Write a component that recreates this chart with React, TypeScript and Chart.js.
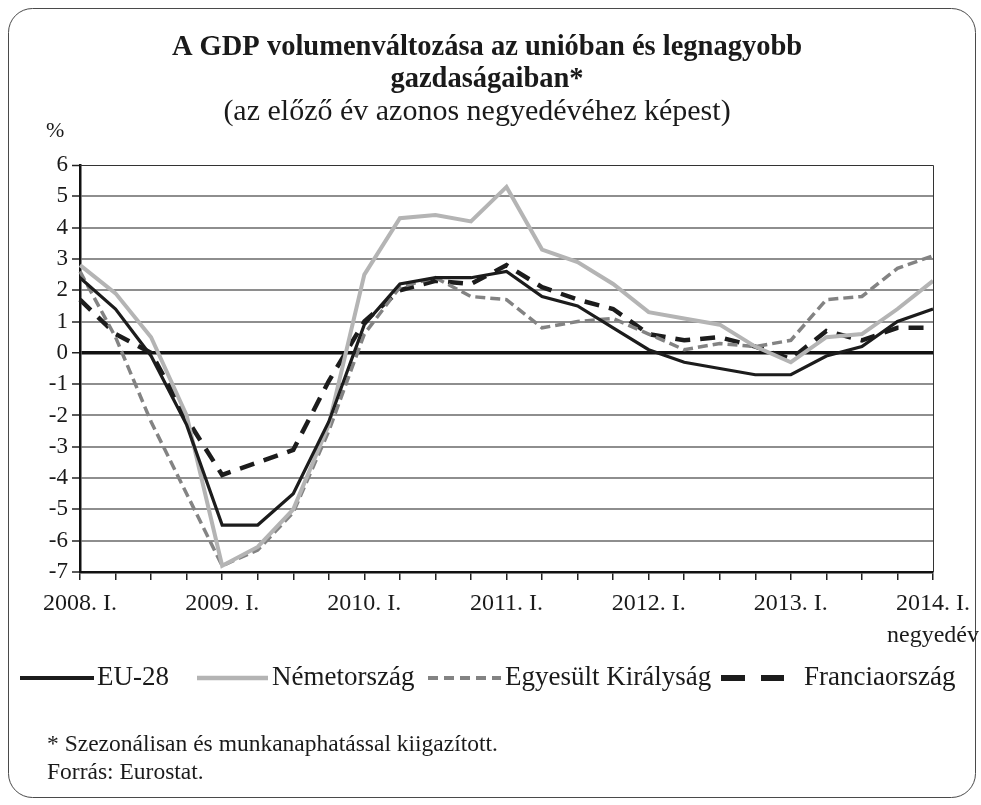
import React, { useEffect, useRef } from "react";
import { Chart, registerables } from "chart.js";

Chart.register(...registerables);

const categories = [
  "2008. I.", "2008. II.", "2008. III.", "2008. IV.",
  "2009. I.", "2009. II.", "2009. III.", "2009. IV.",
  "2010. I.", "2010. II.", "2010. III.", "2010. IV.",
  "2011. I.", "2011. II.", "2011. III.", "2011. IV.",
  "2012. I.", "2012. II.", "2012. III.", "2012. IV.",
  "2013. I.", "2013. II.", "2013. III.", "2013. IV.",
  "2014. I.",
];
const tickLabels = [
  "2008. I.", "", "", "", "2009. I.", "", "", "", "2010. I.", "", "", "",
  "2011. I.", "", "", "", "2012. I.", "", "", "", "2013. I.", "", "", "", "2014. I.",
];
const eu28 = [2.4, 1.4, -0.1, -2.3, -5.5, -5.5, -4.5, -2.2, 0.9, 2.2, 2.4, 2.4, 2.6, 1.8, 1.5, 0.8, 0.1, -0.3, -0.5, -0.7, -0.7, -0.1, 0.2, 1.0, 1.4];
const germany = [2.8, 1.9, 0.5, -2.0, -6.8, -6.2, -5.0, -2.3, 2.5, 4.3, 4.4, 4.2, 5.3, 3.3, 2.9, 2.2, 1.3, 1.1, 0.9, 0.2, -0.3, 0.5, 0.6, 1.4, 2.3];
const uk = [2.6, 0.5, -2.2, -4.5, -6.8, -6.3, -5.1, -2.5, 0.6, 2.1, 2.4, 1.8, 1.7, 0.8, 1.0, 1.1, 0.6, 0.1, 0.3, 0.2, 0.4, 1.7, 1.8, 2.7, 3.1];
const france = [1.7, 0.6, 0.0, -2.1, -3.9, -3.5, -3.1, -0.9, 1.0, 2.0, 2.3, 2.2, 2.8, 2.1, 1.7, 1.4, 0.6, 0.4, 0.5, 0.2, -0.2, 0.7, 0.4, 0.8, 0.8];

const titleLines = ["A GDP volumenváltozása az unióban és legnagyobb", "gazdaságaiban*"];
const subtitleText = "(az előző év azonos negyedévéhez képest)";
const yUnit = "%";
const xUnit = "negyedév";
const footnotes = ["* Szezonálisan és munkanaphatással kiigazított.", "Forrás: Eurostat."];

const FONT = "'Liberation Serif', 'DejaVu Serif', serif";

const seriesStyles = [
  { label: "EU-28", data: eu28, color: "#1c1c1c", width: 3.2, dash: [] as number[] },
  { label: "Németország", data: germany, color: "#b4b4b4", width: 4, dash: [] as number[] },
  { label: "Egyesült Királyság", data: uk, color: "#838383", width: 3.5, dash: [10, 5] },
  { label: "Franciaország", data: france, color: "#1c1c1c", width: 4.5, dash: [15, 10] },
];

// legend layout: [line start, line end, text start]
const legendLayout = [
  [20, 94, 97],
  [197, 268, 272],
  [428, 501, 505],
  [721, 784, 804],
];
const legendDash = [[], [], [10, 6], [24, 16]];
const legendWidth = [4, 4.5, 4, 6];

const decorPlugin = {
  id: "decor",
  beforeDraw(chart: any) {
    const ctx = chart.ctx;
    ctx.save();
    ctx.fillStyle = "#ffffff";
    ctx.fillRect(0, 0, chart.width, chart.height);
    const x = 8.5, y = 8.5, w = 967, h = 789, r = 24;
    ctx.beginPath();
    ctx.moveTo(x + r, y);
    ctx.lineTo(x + w - r, y);
    ctx.arcTo(x + w, y, x + w, y + r, r);
    ctx.lineTo(x + w, y + h - r);
    ctx.arcTo(x + w, y + h, x + w - r, y + h, r);
    ctx.lineTo(x + r, y + h);
    ctx.arcTo(x, y + h, x, y + h - r, r);
    ctx.lineTo(x, y + r);
    ctx.arcTo(x, y, x + r, y, r);
    ctx.closePath();
    ctx.strokeStyle = "#4a4a4a";
    ctx.lineWidth = 1;
    ctx.stroke();
    ctx.restore();
  },
  afterDatasetsDraw(chart: any) {
    const ctx = chart.ctx;
    const a = chart.chartArea;
    ctx.save();
    ctx.strokeStyle = "#333";
    ctx.lineWidth = 1;
    ctx.beginPath();
    ctx.moveTo(a.left, a.top + 0.5);
    ctx.lineTo(a.right + 0.5, a.top + 0.5);
    ctx.lineTo(a.right + 0.5, a.bottom);
    ctx.stroke();

    ctx.fillStyle = "#1a1a1a";
    ctx.textBaseline = "middle";
    ctx.textAlign = "center";
    ctx.font = `bold 28.5px ${FONT}`;
    ctx.fillText(titleLines[0], 487, 48);
    ctx.fillText(titleLines[1], 487, 80);
    ctx.font = `30px ${FONT}`;
    ctx.fillText(subtitleText, 477, 112);
    ctx.textAlign = "left";
    ctx.font = `22px ${FONT}`;
    ctx.fillText(yUnit, 46, 131);
    ctx.textAlign = "right";
    ctx.font = `24px ${FONT}`;
    ctx.fillText(xUnit, 979, 636);

    ctx.font = `27px ${FONT}`;
    const ly = 678;
    seriesStyles.forEach((s, i) => {
      const [x0, x1, tx] = legendLayout[i];
      ctx.beginPath();
      ctx.setLineDash(legendDash[i]);
      ctx.strokeStyle = s.color;
      ctx.lineWidth = legendWidth[i];
      ctx.moveTo(x0, ly);
      ctx.lineTo(x1, ly);
      ctx.stroke();
      ctx.setLineDash([]);
      ctx.textAlign = "left";
      ctx.fillStyle = "#1a1a1a";
      ctx.fillText(s.label, tx, ly);
    });

    ctx.font = `23.5px ${FONT}`;
    ctx.textAlign = "left";
    ctx.fillText(footnotes[0], 47, 745);
    ctx.fillText(footnotes[1], 47, 773);
    ctx.restore();
  },
};

export default function App() {
  const ref = useRef<HTMLCanvasElement>(null);
  useEffect(() => {
    document.body.style.margin = "0";
    const canvas = ref.current;
    if (!canvas) return;
    const chart = new Chart(canvas, {
      type: "line",
      data: {
        labels: categories,
        datasets: seriesStyles.map((s) => ({
          label: s.label,
          data: s.data,
          borderColor: s.color,
          backgroundColor: s.color,
          borderWidth: s.width,
          borderDash: s.dash,
          pointRadius: 0,
          pointHoverRadius: 0,
          tension: 0,
          fill: false,
          borderCapStyle: "butt",
          borderJoinStyle: "miter",
        })),
      },
      options: {
        animation: false,
        responsive: false,
        maintainAspectRatio: false,
        events: [],
        layout: { padding: { left: 0, top: 165, right: 48, bottom: 193 } },
        plugins: {
          legend: { display: false },
          title: { display: false },
          tooltip: { enabled: false },
        },
        scales: {
          x: {
            type: "category",
            offset: false,
            afterFit: (s: any) => { s.height = 40; },
            border: { display: true, color: "#111", width: 2.5 },
            grid: {
              display: true,
              offset: false,
              drawOnChartArea: false,
              drawTicks: true,
              tickLength: 8,
              color: "#222",
              lineWidth: 1.5,
            },
            ticks: {
              autoSkip: false,
              maxRotation: 0,
              minRotation: 0,
              padding: 9,
              color: "#1a1a1a",
              font: { family: FONT, size: 24 },
              callback: (_v: any, i: number) => tickLabels[i],
            },
          },
          y: {
            min: -7,
            max: 6,
            afterFit: (s: any) => { s.width = 80; },
            border: { display: true, color: "#111", width: 2.5 },
            grid: {
              drawTicks: true,
              tickLength: 8,
              tickColor: "#222",
              tickWidth: 1.5,
              color: (c: any) => (c.tick && c.tick.value === 0 ? "#111" : c.tick && c.tick.value === 6 ? "#333" : "#8e8e8e"),
              lineWidth: (c: any) => (c.tick && c.tick.value === 0 ? 3.5 : c.tick && c.tick.value === 6 ? 1 : 2),
            },
            ticks: {
              stepSize: 1,
              padding: 4,
              color: "#1a1a1a",
              font: { family: FONT, size: 23 },
            },
          },
        },
      } as any,
      plugins: [decorPlugin],
    });
    return () => chart.destroy();
  }, []);
  return (
    <div style={{ position: "relative", width: 981, height: 805 }}>
      <canvas ref={ref} width={981} height={805} style={{ display: "block", width: 981, height: 805 }} />
    </div>
  );
}
